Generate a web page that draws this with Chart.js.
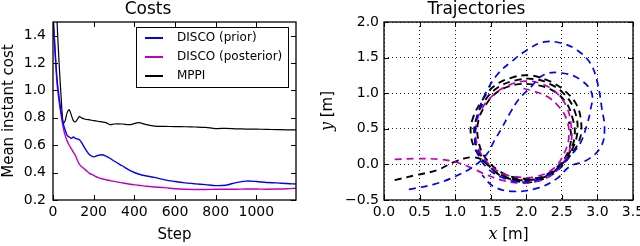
<!DOCTYPE html>
<html>
<head>
<meta charset="utf-8">
<script src="https://cdn.jsdelivr.net/npm/chart.js@4.4.1/dist/chart.umd.min.js"></script>
<style>
	body { margin: 0; background: #fff; }
	#wrap { position: relative; width: 640px; height: 246px; }
	canvas { position: absolute; top: 0; }
</style>
</head>
<body>
<div id="wrap">
	<canvas id="costChart" width="320" height="246" style="left:0"></canvas>
	<canvas id="trajChart" width="320" height="246" style="left:320px"></canvas>
</div>
<script>
// costs panel
var steps = [0, 10, 20, 30, 40, 50, 60, 70, 80, 90, 100, 110, 120, 130, 140, 160, 180, 200, 220, 240, 260, 280, 300, 340, 380, 420, 460, 500, 550, 600, 650, 700, 750, 800, 850, 900, 950, 1000, 1050, 1100, 1150, 1195];
var priorCost = [1.55, 1.3, 1.08, 0.95, 0.84, 0.76, 0.71, 0.67, 0.66, 0.65, 0.66, 0.65, 0.645, 0.64, 0.62, 0.57, 0.53, 0.515, 0.525, 0.53, 0.52, 0.505, 0.485, 0.45, 0.415, 0.39, 0.375, 0.365, 0.347, 0.335, 0.325, 0.318, 0.312, 0.305, 0.308, 0.327, 0.338, 0.335, 0.328, 0.325, 0.32, 0.317];
var posteriorCost = [1.55, 1.28, 1.05, 0.92, 0.82, 0.73, 0.67, 0.63, 0.6, 0.575, 0.55, 0.525, 0.49, 0.46, 0.445, 0.42, 0.395, 0.38, 0.365, 0.355, 0.348, 0.342, 0.336, 0.325, 0.315, 0.308, 0.3, 0.295, 0.29, 0.282, 0.278, 0.277, 0.277, 0.278, 0.278, 0.279, 0.28, 0.28, 0.279, 0.28, 0.282, 0.286];
var mppiCost = [2.2, 1.9, 1.5, 1.2, 0.95, 0.76, 0.78, 0.84, 0.86, 0.82, 0.78, 0.77, 0.79, 0.81, 0.8, 0.79, 0.785, 0.78, 0.775, 0.77, 0.765, 0.75, 0.755, 0.755, 0.75, 0.765, 0.75, 0.74, 0.738, 0.736, 0.735, 0.733, 0.73, 0.722, 0.723, 0.72, 0.718, 0.717, 0.716, 0.714, 0.712, 0.712];
var costTicksX = [0, 200, 400, 600, 800, 1000];
var costTicksY = [0.2, 0.4, 0.6, 0.8, 1.0, 1.2, 1.4];

// trajectories panel
var priorTrajX = [0.35, 0.7, 1.0, 1.27, 1.45, 1.55, 1.65, 1.77, 1.9, 2.05, 2.25, 2.52, 2.76, 2.92, 2.9, 2.85, 2.76, 2.6, 2.45, 2.2, 1.95, 1.7, 1.45, 1.3, 1.28, 1.33, 1.44, 1.6, 1.8, 2.0, 2.25, 2.5, 2.72, 2.9, 3.0, 3.06, 3.1, 3.05, 2.85, 2.61, 2.43, 2.17, 1.82, 1.54, 1.38];
var priorTrajY = [-0.35, -0.28, -0.17, -0.02, 0.15, 0.33, 0.5, 0.72, 0.92, 1.07, 1.26, 1.28, 1.19, 1.0, 0.75, 0.55, 0.3, 0.1, -0.05, -0.2, -0.25, -0.2, -0.05, 0.2, 0.45, 0.75, 1.02, 1.27, 1.45, 1.6, 1.72, 1.7, 1.6, 1.42, 1.15, 0.8, 0.5, 0.25, 0.06, -0.03, -0.2, -0.33, -0.38, -0.31, -0.15];
var posteriorTrajX = [0.15, 0.45, 0.8, 1.05, 1.25, 1.45, 1.65, 1.9, 2.15, 2.38, 2.55, 2.63, 2.63, 2.57, 2.43, 2.22, 1.98, 1.75, 1.52, 1.36, 1.29, 1.32, 1.45, 1.65, 1.9, 2.15, 2.38, 2.53, 2.6, 2.56, 2.45, 2.3, 2.1, 1.9];
var posteriorTrajY = [0.07, 0.08, 0.07, 0.02, -0.06, -0.15, -0.22, -0.26, -0.24, -0.13, 0.07, 0.3, 0.55, 0.8, 1.0, 1.13, 1.17, 1.11, 0.96, 0.75, 0.5, 0.25, 0.03, -0.12, -0.18, -0.17, -0.06, 0.15, 0.4, 0.65, 0.82, 0.95, 1.03, 1.08];
var mppiTrajX = [0.15, 0.45, 0.75, 1.0, 1.25, 1.42, 1.55, 1.75, 2.0, 2.25, 2.45, 2.6, 2.68, 2.65, 2.55, 2.35, 2.1, 1.85, 1.6, 1.42, 1.32, 1.33, 1.42, 1.6, 1.82, 2.05, 2.3, 2.5, 2.65, 2.72, 2.68, 2.55, 2.35, 2.1, 1.85, 1.6, 1.42, 1.3, 1.27, 1.35, 1.5, 1.72, 1.95, 2.2, 2.42, 2.6, 2.75, 2.77, 2.7, 2.52, 2.3, 2.05, 1.8, 1.55, 1.38, 1.25, 1.22, 1.3, 1.45, 1.65, 1.9, 2.15, 2.38, 2.55, 2.63, 2.6];
var mppiTrajY = [-0.22, -0.15, -0.08, 0.04, 0.1, 0.04, -0.1, -0.2, -0.22, -0.18, -0.05, 0.15, 0.4, 0.65, 0.88, 1.05, 1.12, 1.12, 1.02, 0.82, 0.58, 0.32, 0.1, -0.08, -0.18, -0.2, -0.15, 0.0, 0.22, 0.48, 0.75, 0.97, 1.12, 1.2, 1.18, 1.08, 0.9, 0.65, 0.4, 0.15, -0.05, -0.18, -0.25, -0.22, -0.1, 0.1, 0.35, 0.6, 0.85, 1.05, 1.18, 1.25, 1.22, 1.1, 0.9, 0.65, 0.42, 0.18, 0.0, -0.15, -0.22, -0.2, -0.08, 0.1, 0.35, 0.6];
var trajTicksX = [0, 0.5, 1, 1.5, 2, 2.5, 3, 3.5];
var trajTicksY = [-0.5, 0, 0.5, 1, 1.5, 2];

Chart.defaults.font.family = "'DejaVu Sans'";
Chart.defaults.color = '#000';

function pairs(xs, ys) {
	return xs.map(function(x, i) { return { x: x, y: ys[i] }; });
}

function fixSize(w, h) {
	return function(scale) {
		if (w) scale.width = w;
		if (h) scale.height = h;
		scale.paddingLeft = 0; scale.paddingRight = 0;
		scale.paddingTop = 0; scale.paddingBottom = 0;
	};
}

function setTicks(list) {
	return function(scale) {
		scale.ticks = list.map(function(v) { return { value: v }; });
	};
}

// black box round the axes with inward ticks on all four sides
var frame = {
	id: 'frame',
	afterDatasetsDraw: function(chart) {
		var a = chart.chartArea, ctx = chart.ctx;
		var sx = chart.scales.x, sy = chart.scales.y;
		ctx.save();
		ctx.strokeStyle = '#000';
		ctx.lineWidth = 1;
		ctx.beginPath();
		sx.ticks.forEach(function(t) {
			var p = Math.round(sx.getPixelForValue(t.value)) + 0.5;
			ctx.moveTo(p, a.bottom); ctx.lineTo(p, a.bottom - 5);
			ctx.moveTo(p, a.top); ctx.lineTo(p, a.top + 5);
		});
		sy.ticks.forEach(function(t) {
			var p = Math.round(sy.getPixelForValue(t.value)) + 0.5;
			ctx.moveTo(a.left, p); ctx.lineTo(a.left + 5, p);
			ctx.moveTo(a.right, p); ctx.lineTo(a.right - 5, p);
		});
		ctx.stroke();
		ctx.lineWidth = 1.3;
		ctx.strokeRect(a.left, a.top, a.right - a.left, a.bottom - a.top);
		ctx.restore();
	}
};

// legend inside the costs axes (upper right)
var boxLegend = {
	id: 'boxLegend',
	afterDraw: function(chart) {
		var a = chart.chartArea, ctx = chart.ctx;
		var left = a.right - 160, top = a.top + 5, w = 152, h = 60;
		ctx.save();
		ctx.fillStyle = '#fff';
		ctx.fillRect(left, top, w, h);
		ctx.strokeStyle = '#000';
		ctx.lineWidth = 1;
		ctx.strokeRect(left + 0.5, top + 0.5, w, h);
		ctx.font = "12px 'DejaVu Sans'";
		ctx.textBaseline = 'middle';
		chart.data.datasets.forEach(function(ds, i) {
			var y = top + 11 + i * 19;
			ctx.strokeStyle = ds.borderColor;
			ctx.lineWidth = 2;
			ctx.beginPath();
			ctx.moveTo(left + 9, y); ctx.lineTo(left + 27, y);
			ctx.stroke();
			ctx.fillStyle = '#000';
			ctx.fillText(ds.label, left + 41, y);
		});
		ctx.restore();
	}
};

// axis labels of the trajectories panel: italic variable + upright unit
function mathLabel(ctx, x, y, v, unit, rot) {
	ctx.save();
	ctx.translate(x, y);
	ctx.rotate(rot);
	ctx.fillStyle = '#000';
	ctx.textBaseline = 'middle';
	var fv = "italic 16px 'DejaVu Serif'", fu = "15px 'DejaVu Sans'";
	ctx.font = fv; var w1 = ctx.measureText(v).width;
	ctx.font = fu; var w2 = ctx.measureText(unit).width;
	var x0 = -(w1 + w2) / 2;
	ctx.font = fv; ctx.fillText(v, x0, 0);
	ctx.font = fu; ctx.fillText(unit, x0 + w1, 0);
	ctx.restore();
}

var trajLabels = {
	id: 'trajLabels',
	afterDraw: function(chart) {
		var a = chart.chartArea;
		mathLabel(chart.ctx, (a.left + a.right) / 2, 235, 'x', ' [m]', 0);
		mathLabel(chart.ctx, 8, (a.top + a.bottom) / 2, 'y', ' [m]', -Math.PI / 2);
	}
};

function fmt1(v) {
	return v < 0 ? '\u2212' + Math.abs(v).toFixed(1) : v.toFixed(1);
}

new Chart('costChart', {
	type: 'scatter',
	data: {
		datasets: [{
			label: 'DISCO (prior)',
			data: pairs(steps, priorCost),
			borderColor: '#0000ff',
			borderWidth: 1.4
		}, {
			label: 'DISCO (posterior)',
			data: pairs(steps, posteriorCost),
			borderColor: '#bf00bf',
			borderWidth: 1.4
		}, {
			label: 'MPPI',
			data: pairs(steps, mppiCost),
			borderColor: '#000',
			borderWidth: 1.2
		}]
	},
	options: {
		responsive: false,
		animation: false,
		showLine: true,
		elements: { point: { radius: 0 }, line: { tension: 0.3 } },
		layout: { padding: { left: 0, right: 24, top: 0, bottom: 0 } },
		plugins: {
			legend: { display: false },
			tooltip: { enabled: false },
			title: { display: true, text: 'Costs', font: { size: 17, weight: 'normal', lineHeight: '20px' }, padding: { top: 0, bottom: 2 }, color: '#000' }
		},
		scales: {
			x: {
				type: 'linear', min: 0, max: 1195,
				grid: { display: false, drawTicks: false },
				border: { display: false },
				ticks: { padding: 4, font: { size: 14 }, maxRotation: 0, callback: function(v) { return v; } },
				title: { display: true, text: 'Step', font: { size: 15 }, padding: { top: 0, bottom: 2 } },
				afterBuildTicks: setTicks(costTicksX),
				afterFit: fixSize(0, 46)
			},
			y: {
				type: 'linear', min: 0.2, max: 1.5,
				grid: { display: false, drawTicks: false },
				border: { display: false },
				ticks: { padding: 7, font: { size: 14 }, callback: function(v) { return v.toFixed(1); } },
				title: { display: true, text: 'Mean instant cost', font: { size: 15 }, padding: 0 },
				afterBuildTicks: setTicks(costTicksY),
				afterFit: fixSize(53, 0)
			}
		}
	},
	plugins: [frame, boxLegend]
});

var trajStyle = { borderWidth: 1.7, borderDash: [7, 5] };

new Chart('trajChart', {
	type: 'scatter',
	data: {
		datasets: [{
			label: 'DISCO (prior)',
			data: pairs(priorTrajX, priorTrajY),
			borderColor: '#0000ff',
			borderWidth: trajStyle.borderWidth,
			borderDash: trajStyle.borderDash
		}, {
			label: 'DISCO (posterior)',
			data: pairs(posteriorTrajX, posteriorTrajY),
			borderColor: '#bf00bf',
			borderWidth: trajStyle.borderWidth,
			borderDash: trajStyle.borderDash
		}, {
			label: 'MPPI',
			data: pairs(mppiTrajX, mppiTrajY),
			borderColor: '#000',
			borderWidth: 1.9,
			borderDash: trajStyle.borderDash
		}]
	},
	options: {
		responsive: false,
		animation: false,
		showLine: true,
		elements: { point: { radius: 0 }, line: { tension: 0.4 } },
		layout: { padding: { left: 0, right: 7, top: 0, bottom: 0 } },
		plugins: {
			legend: { display: false },
			tooltip: { enabled: false },
			title: { display: true, text: 'Trajectories', font: { size: 17, weight: 'normal', lineHeight: '20px' }, padding: { top: 0, bottom: 2 }, color: '#000' }
		},
		scales: {
			x: {
				type: 'linear', min: 0, max: 3.5,
				grid: { color: '#222', lineWidth: 1, drawTicks: false },
				border: { display: false, dash: [1, 3] },
				ticks: { padding: 4, font: { size: 14 }, maxRotation: 0, callback: fmt1 },
				afterBuildTicks: setTicks(trajTicksX),
				afterFit: fixSize(0, 46)
			},
			y: {
				type: 'linear', min: -0.5, max: 2.0,
				grid: { color: '#222', lineWidth: 1, drawTicks: false },
				border: { display: false, dash: [1, 3] },
				ticks: { padding: 5, font: { size: 14 }, callback: fmt1 },
				afterBuildTicks: setTicks(trajTicksY),
				afterFit: fixSize(64, 0)
			}
		}
	},
	plugins: [frame, trajLabels]
});
</script>
</body>
</html>
